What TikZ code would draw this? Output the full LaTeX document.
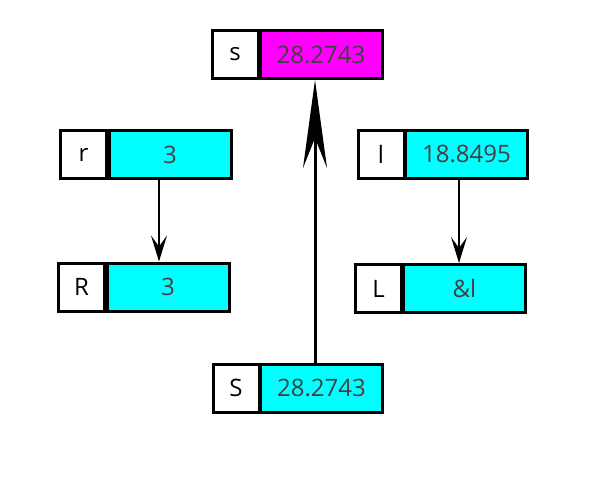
\documentclass[tikz,border=0pt]{standalone}
\usepackage{fontspec}
\setmainfont{Open Sans}
\usetikzlibrary{arrows.meta}
\definecolor{boxcyan}{RGB}{0,255,255}
\definecolor{boxmagenta}{RGB}{255,0,255}

\begin{document}
\begin{tikzpicture}[x=1pt,y=-1pt,
    cellbox/.style={draw,line width=3pt,minimum height=48pt,inner sep=0pt,
      font=\fontsize{24}{28}\selectfont},
    varcell/.style={cellbox,fill=white,minimum width=46pt},
    valcell/.style={cellbox,minimum width=122pt,text=black!75},
    link/.style={line width=2pt,-{Stealth[length=26pt,width=16pt,inset=11pt]}},
    biglink/.style={line width=3pt,-{Stealth[length=88pt,width=24pt,inset=30pt]}}]
    \useasboundingbox (0,0) rectangle (598,483);
    % arrows under the boxes
    \coordinate (sv0) at (315,80);
    \coordinate (Sv0) at (315,363);
    \draw[biglink] (Sv0) to (sv0);
    \node[varcell] (s) at (235,54.5) {s};
    \node[valcell,fill=boxmagenta] (sv) at (321,54.5) {28.2743};
    \node[varcell] (r) at (83.5,154.5) {r};
    \node[valcell,fill=boxcyan] (rv) at (170,154.5) {3};
    \node[varcell] (R) at (81.5,287) {R};
    \node[valcell,fill=boxcyan] (Rv) at (168,287) {3};
    \node[varcell] (l) at (381,154) {l};
    \node[valcell,fill=boxcyan] (lv) at (466.5,154) {18.8495};
    \node[varcell] (L) at (378.5,288.5) {L};
    \node[valcell,fill=boxcyan] (Lv) at (464.5,288.5) {\&l};
    \node[varcell] (S) at (236,388) {S};
    \node[valcell,fill=boxcyan] (Sv) at (321.5,388) {28.2743};
    \draw[link] ([xshift=-11pt]rv.south) to ([xshift=-9pt]Rv.north);
    \draw[link] ([xshift=-7.5pt]lv.south) to ([xshift=-5.5pt]Lv.north);
  \end{tikzpicture}
\end{document}
